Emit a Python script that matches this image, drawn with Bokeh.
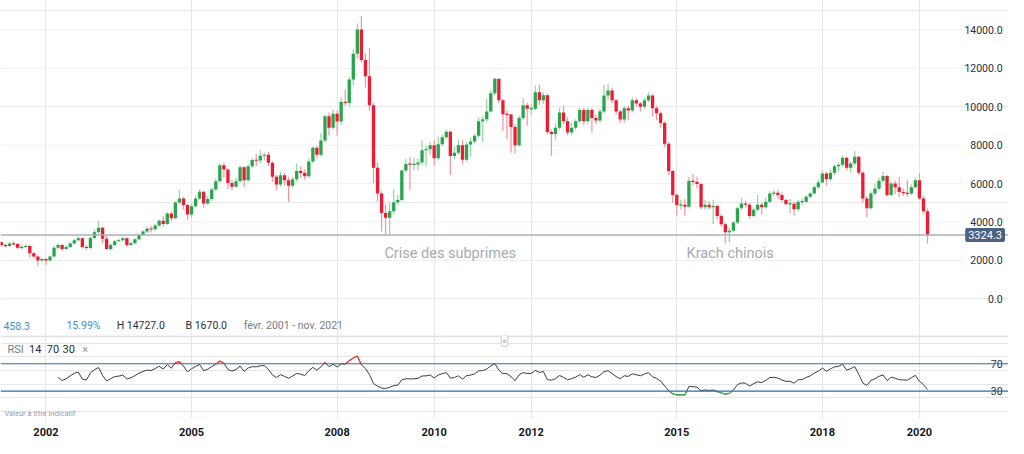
import numpy as np
from bokeh.plotting import figure
from bokeh.layouts import column
from bokeh.models import Range1d, FixedTicker, Span, Label, ColumnDataSource, Grid
from bokeh.core.properties import value
from bokeh.embed import file_html
from bokeh.resources import INLINE

# ---------------- data (monthly candles, Feb 2001 - Mar 2020) ----------------
start_year, start_month = 2001, 2
first_open = 2950.0

close_2001 = [2800, 2750, 2880, 2850, 2660, 2700, 2750, 2380, 2210, 2000, 2080]
close_2002 = [2000, 2210, 2660, 2800, 2600, 2700, 2880, 3050, 3150, 2700, 2650, 3170]
close_2003 = [3470, 3700, 3130, 2600, 2800, 3000, 3050, 3150, 2800, 2900, 3100, 3330]
close_2004 = [3500, 3650, 3620, 3820, 4070, 3900, 4440, 4200, 5020, 5220, 4880, 4390]
close_2005 = [4820, 5220, 5570, 4970, 5200, 5690, 6120, 6950, 6730, 6030, 5830, 6120]
close_2006 = [6850, 6180, 6900, 7230, 7200, 7450, 7500, 7080, 6350, 5950, 6430, 6180]
close_2007 = [5890, 6230, 6650, 6550, 6380, 7150, 7860, 7500, 8240, 9500, 8910, 9630]
close_2008 = [9230, 10250, 10200, 11420, 12760, 14020, 12430, 11590, 10080, 6820, 5480, 4470]
close_2009 = [4220, 4560, 5030, 5150, 6680, 7020, 7000, 7000, 7100, 7740, 7790, 8000]
close_2010 = [7320, 8050, 8410, 8700, 7440, 7600, 8000, 7240, 8040, 8190, 8490, 9250]
close_2011 = [9350, 9750, 10700, 11460, 10340, 9610, 9600, 8940, 7990, 9410, 10080, 9900]
close_2012 = [9900, 10750, 10340, 10600, 8690, 8580, 8910, 9700, 9250, 8660, 8910, 9250]
close_2013 = [9830, 9250, 9830, 9410, 9280, 9750, 10590, 10840, 10340, 9750, 9330, 9920]
close_2014 = [9800, 10340, 10170, 10000, 10340, 10590, 9920, 9660, 9160, 8070, 6650, 5400]
close_2015 = [4890, 4900, 4800, 6150, 6080, 5980, 4770, 4900, 4770, 4830, 4310, 3890]
close_2016 = [3470, 3550, 3970, 4720, 4970, 4900, 4310, 4640, 4900, 4770, 5060, 5480]
close_2017 = [5520, 5400, 5140, 4940, 4950, 4670, 5060, 5060, 5310, 5480, 5810, 6060]
close_2018 = [6520, 6230, 6570, 6900, 6980, 7350, 6820, 7040, 7400, 6570, 5230, 4720]
close_2019 = [5480, 5730, 6150, 6400, 5400, 6000, 5810, 5560, 5500, 5480, 5810, 6180]
close_2020 = [5230, 4560, 3324.3]

high_2001 = [3000, 2880, 2950, 2990, 2900, 2780, 2830, 2800, 2450, 2250, 2150]
high_2002 = [2120, 2260, 2750, 2900, 2850, 2780, 2950, 3120, 3250, 3200, 2800, 3230]
high_2003 = [3600, 4070, 3760, 3300, 2900, 3060, 3130, 3230, 3200, 2980, 3150, 3400]
high_2004 = [3600, 3760, 3800, 3900, 4150, 4300, 4520, 4550, 5080, 5650, 5300, 4950]
high_2005 = [4950, 5350, 5700, 5600, 5350, 5800, 6250, 7050, 7100, 6800, 6200, 6300]
high_2006 = [6950, 6900, 7000, 7350, 7550, 7750, 7600, 7650, 7150, 6450, 6600, 6550]
high_2007 = [6350, 6350, 7050, 6900, 6750, 7300, 7950, 7950, 8650, 9600, 9700, 9850]
high_2008 = [9800, 10500, 10900, 11550, 13000, 14350, 14727, 12800, 13050, 10200, 7100, 5600]
high_2009 = [4900, 5000, 5700, 5400, 6750, 7300, 7400, 7350, 7300, 8250, 8000, 8150]
high_2010 = [8250, 8450, 8550, 8800, 8750, 7950, 8300, 8250, 8150, 8400, 8600, 9450]
high_2011 = [9500, 10400, 10850, 11500, 11400, 10400, 9800, 9650, 9100, 9550, 10450, 10200]
high_2012 = [10100, 11100, 11150, 10750, 10650, 8800, 9100, 9950, 10050, 9450, 9150, 9350]
high_2013 = [9950, 9950, 9950, 9950, 9600, 9900, 11150, 11200, 11000, 10400, 9850, 10050]
high_2014 = [10050, 10500, 10450, 10250, 10450, 10750, 10650, 10050, 9750, 9250, 8150, 6700]
high_2015 = [5500, 5150, 5200, 6350, 6500, 6350, 6050, 5150, 5100, 5150, 4900, 4400]
high_2016 = [3950, 3700, 4050, 4800, 5250, 5100, 5000, 4750, 5400, 5000, 5250, 5600]
high_2017 = [5650, 5650, 5550, 5200, 5200, 5050, 5150, 5200, 5400, 5550, 5900, 6200]
high_2018 = [6650, 6600, 6750, 7000, 7100, 7450, 7400, 7150, 7700, 7450, 6650, 5350]
high_2019 = [5600, 6000, 6300, 6600, 6450, 6100, 6150, 6350, 5750, 6200, 5950, 6300]
high_2020 = [6550, 5350, 4700]

low_2001 = [2700, 2680, 2700, 2780, 2600, 2560, 2650, 2150, 2120, 1700, 1900]
low_2002 = [1760, 1960, 2180, 2600, 2500, 2550, 2650, 2820, 3000, 2620, 2550, 2600]
low_2003 = [3100, 3400, 2900, 2550, 2500, 2750, 2950, 3000, 2700, 2750, 2850, 3050]
low_2004 = [3280, 3420, 3450, 3550, 3750, 3750, 3850, 4050, 4150, 4950, 4650, 4100]
low_2005 = [4250, 4750, 5150, 4750, 4900, 5100, 5600, 6050, 6300, 5700, 5650, 5800]
low_2006 = [6050, 5800, 6100, 6800, 6900, 7050, 7200, 6900, 6100, 5650, 5850, 5900]
low_2007 = [5050, 5800, 6100, 6300, 6200, 6300, 7050, 7300, 7400, 8150, 8500, 8800]
low_2008 = [8500, 9050, 10050, 10000, 11100, 12500, 12300, 11000, 9800, 6000, 5100, 3500]
low_2009 = [3300, 3350, 4400, 4900, 5100, 6600, 5650, 6700, 6700, 6950, 6900, 7500]
low_2010 = [6950, 7200, 7950, 8300, 6450, 7250, 7500, 7000, 7150, 7400, 8100, 8400]
low_2011 = [8150, 9200, 9700, 10600, 10200, 8750, 8300, 7600, 7550, 7900, 9300, 9000]
low_2012 = [9600, 9800, 10100, 10150, 8550, 7450, 8300, 8800, 9100, 8500, 8500, 8800]
low_2013 = [9150, 9050, 9100, 8650, 9100, 9150, 9650, 10350, 10200, 9600, 9150, 9150]
low_2014 = [9300, 9700, 10000, 9750, 9900, 10250, 9500, 9300, 8900, 7900, 6450, 5000]
low_2015 = [4350, 4650, 4300, 4700, 5900, 5750, 4650, 4650, 4650, 3900, 4150, 3750]
low_2016 = [2900, 2950, 3450, 3900, 4650, 4750, 4150, 4250, 4550, 4400, 4700, 5000]
low_2017 = [5350, 5200, 5050, 4850, 4450, 4320, 4550, 4900, 5000, 5250, 5450, 5750]
low_2018 = [6000, 5900, 6150, 6450, 6650, 6900, 6700, 6550, 6950, 6450, 5000, 4250]
low_2019 = [4650, 5350, 5650, 6050, 5300, 5350, 5450, 5300, 5350, 5300, 5400, 5750]
low_2020 = [5150, 4400, 2880]

year_ticks = [2002, 2005, 2008, 2010, 2012, 2015, 2018, 2020]
price_ticks = [0, 2000, 4000, 6000, 8000, 10000, 12000, 14000]
rsi_levels = [30, 70]
rsi_period = 14
last_price = 3324.3
info_texts = ["458.3", "15.99%", "H 14727.0", "B 1670.0", "févr. 2001 - nov. 2021"]
event_texts = ["Crise des subprimes", "Krach chinois"]

years = range(2001, 2021)
close = sum([globals()[f"close_{y}"] for y in years], [])
high = sum([globals()[f"high_{y}"] for y in years], [])
low = sum([globals()[f"low_{y}"] for y in years], [])

# ---------------- derived ----------------
n = len(close)
t = np.array([start_year + (start_month - 1 + k) / 12 for k in range(n)])
c = np.array(close, dtype=float)
o = np.array([first_open] + close[:-1], dtype=float)
h = np.array(high, dtype=float)
l = np.array(low, dtype=float)
up = c >= o
btop = np.maximum(o, c)
bbot = np.minimum(o, c)
bmid = (btop + bbot) / 2
bh = np.maximum(btop - bbot, 60)

UP, DOWN = "#2aa54e", "#ee1b35"
UPW, DOWNW = "#92d3a3", "#f5929e"

src = ColumnDataSource(dict(
    t=t, o=o, c=c, h=h, l=l, mid=bmid, bh=bh,
    col=[UP if u else DOWN for u in up],
    wcol=[UPW if u else DOWNW for u in up],
))

# RSI (Wilder)
d = np.diff(c)
gain = np.where(d > 0, d, 0.0)
loss = np.where(d < 0, -d, 0.0)
ag = gain[:rsi_period].mean()
al = loss[:rsi_period].mean()
rsi = [np.nan] * rsi_period + [100 - 100 / (1 + ag / al)]
for k in range(rsi_period, len(d)):
    ag = (ag * (rsi_period - 1) + gain[k]) / rsi_period
    al = (al * (rsi_period - 1) + loss[k]) / rsi_period
    rsi.append(100 - 100 / (1 + ag / al) if al > 0 else 100.0)
rsi = np.array(rsi)


def beyond(level, above):
    sx, sy = [], []
    for k in range(len(rsi) - 1):
        a, b = rsi[k], rsi[k + 1]
        if np.isnan(a) or np.isnan(b):
            continue
        fa = a > level if above else a < level
        fb = b > level if above else b < level
        if not (fa or fb):
            continue
        x0, y0, x1, y1 = t[k], a, t[k + 1], b
        if not fa:
            f = (level - a) / (b - a)
            x0, y0 = t[k] + f * (t[k + 1] - t[k]), level
        if not fb:
            f = (level - a) / (b - a)
            x1, y1 = t[k] + f * (t[k + 1] - t[k]), level
        sx.append([x0, x1])
        sy.append([y0, y1])
    return sx, sy


# ---------------- layout helpers (reference pixel -> data x) ----------------
def tx(px):
    return 2001 + ((px - 1) / 4.108 + 1) / 12


FONT = "Roboto"
W = 1008
x_range = Range1d(tx(0), tx(1024))

# ---------------- price pane ----------------
p = figure(width=W, height=335, x_range=x_range, y_range=Range1d(-1907, 15530),
           x_axis_location=None, y_axis_location=None, toolbar_location=None,
           output_backend="svg", min_border_left=0, min_border_right=0,
           min_border_top=0, min_border_bottom=0, outline_line_color=None,
           background_fill_color="white", border_fill_color="white")
p.add_layout(Grid(dimension=0, ticker=FixedTicker(ticks=year_ticks),
                  grid_line_color="#e3e5ea", grid_line_width=1))
gx_end = tx(978)
p.segment(x0=[tx(0)] * len(price_ticks), x1=[gx_end] * len(price_ticks),
          y0=price_ticks, y1=price_ticks, line_color="#eeeff3", line_width=1)

p.add_layout(Span(location=last_price, dimension="width", line_color="#a9afbb", line_width=1.3))

p.segment(x0="t", x1="t", y0="l", y1="h", color="wcol", line_width=1.2, source=src)
p.rect(x="t", y="mid", width=0.82 / 12, height="bh", fill_color="col", line_color=None, source=src)

p.text(x=[tx(1018)] * len(price_ticks), y=price_ticks,
       text=[f"{v:.1f}" for v in price_ticks], text_align="right", text_baseline="middle",
       text_font=value(FONT), text_font_size="10.5px", text_color="#2a2e39")

p.add_layout(Label(x=tx(980), y=last_price, text=f"{last_price:.1f}", text_font=FONT,
                   text_font_size="11px", text_color="white", text_align="left",
                   text_baseline="middle", background_fill_color="#4b6182",
                   padding=3, border_radius=2))

ev_y = 2358
p.add_layout(Label(x=tx(390), y=ev_y, text=event_texts[0], text_font=FONT, text_font_size="14.5px",
                   text_color="#a7aab3", text_align="left", text_baseline="middle"))
p.add_layout(Label(x=tx(697), y=ev_y, text=event_texts[1], text_font=FONT, text_font_size="14.5px",
                   text_color="#a7aab3", text_align="left", text_baseline="middle"))

info_y = -1407
info_x = [3, 67, 118, 188, 247]
info_col = ["#3d8fd6", "#3d8fd6", "#2a2e39", "#2a2e39", "#787b86"]
for txt, px, col in zip(info_texts, info_x, info_col):
    p.add_layout(Label(x=tx(px), y=info_y, text=txt, text_font=FONT, text_font_size="10.5px",
                       text_color=col, text_align="left", text_baseline="middle"))

# ---------------- RSI pane ----------------
r = figure(width=W, height=103, x_range=x_range, y_range=Range1d(-10, 111.3),
           x_axis_location="below", y_axis_location=None, toolbar_location=None,
           output_backend="svg", min_border_left=0, min_border_right=0,
           min_border_top=0, min_border_bottom=15, outline_line_color=None,
           background_fill_color="white", border_fill_color="white")
r.xaxis.ticker = FixedTicker(ticks=year_ticks)
r.xaxis.major_label_overrides = {y: str(y) for y in year_ticks}
r.xaxis.axis_line_color = None
r.xaxis.major_tick_line_color = None
r.xaxis.minor_tick_line_color = None
r.xaxis.major_label_standoff = 3
r.xaxis.major_label_text_font = FONT
r.xaxis.major_label_text_font_size = "11px"
r.xaxis.major_label_text_font_style = "bold"
r.xaxis.major_label_text_color = "#131722"
r.xgrid.ticker = FixedTicker(ticks=year_ticks)
r.xgrid.grid_line_color = "#e3e5ea"

r.add_layout(Span(location=110.3, dimension="width", line_color="#dfe1e6", line_width=2))
for lv in rsi_levels:
    r.add_layout(Span(location=lv, dimension="width", line_color="#2f6aa3", line_width=1.2))

r.line(t, rsi, line_color="#3a3d45", line_width=1)
sx, sy = beyond(70, True)
r.multi_line(sx, sy, line_color="#f23645", line_width=1.2)
sx, sy = beyond(30, False)
r.multi_line(sx, sy, line_color="#3bb54a", line_width=1.2)

r.text(x=[tx(1018)] * len(rsi_levels), y=rsi_levels, text=[str(v) for v in rsi_levels],
       text_align="right", text_baseline="middle", text_font=value(FONT),
       text_font_size="10.5px", text_color="#2a2e39",
       background_fill_color="white", background_fill_alpha=1.0)

rsi_y = 91.3
for txt, px, col in [("RSI", 7, "#787b86"), ("14", 29, "#2a2e39"), ("70", 47, "#2a2e39"),
                     ("30", 63, "#2a2e39"), ("×", 83, "#9598a1")]:
    r.add_layout(Label(x=tx(px), y=rsi_y, text=txt, text_font=FONT, text_font_size="11px",
                       text_color=col, text_align="left", text_baseline="middle"))

r.add_layout(Label(x=tx(4), y=-2, text="Valeur à titre indicatif", text_font=FONT,
                   text_font_size="7.5px", text_color="#9a9da5", text_align="left",
                   text_baseline="middle"))

r.add_layout(Label(x=tx(512), y=111.3, text="≡", text_font=FONT, text_font_size="8px",
                   text_color="#8a8d96", text_align="center", text_baseline="top",
                   background_fill_color="white", border_line_color="#c9ccd3",
                   padding=1, border_radius=2))

layout = column(p, r, spacing=0)
open("out.html", "w").write(file_html(layout, INLINE))
